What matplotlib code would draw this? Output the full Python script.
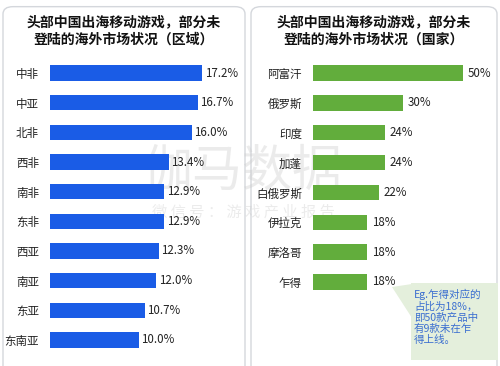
import matplotlib
matplotlib.use('Agg')
import matplotlib.pyplot as plt
from matplotlib.patches import FancyBboxPatch, Polygon

plt.rcParams['font.family'] = ['Noto Sans CJK SC', 'DejaVu Sans']

# data
regions = ['中非', '中亚', '北非', '西非', '南非', '东非', '西亚', '南亚', '东亚', '东南亚']
region_pct = [17.2, 16.7, 16.0, 13.4, 12.9, 12.9, 12.3, 12.0, 10.7, 10.0]
countries = ['阿富汗', '俄罗斯', '印度', '加蓬', '白俄罗斯', '伊拉克', '摩洛哥', '乍得']
country_pct = [50, 30, 24, 24, 22, 18, 18, 18]

title_l = '头部中国出海移动游戏，部分未\n登陆的海外市场状况（区域）'
title_r = '头部中国出海移动游戏，部分未\n登陆的海外市场状况（国家）'

BLUE = '#1a5ce6'
GREEN = '#62ad3c'
W, H = 500, 366

fig = plt.figure(figsize=(W / 100, H / 100), dpi=100)
fig.patch.set_facecolor('white')


def px_box(x0, y0, x1, y1):
    # pixel box (top-left origin) -> figure fraction [l, b, w, h]
    return [x0 / W, 1 - y1 / H, (x1 - x0) / W, (y1 - y0) / H]


# panels
for x0, x1 in [(3, 245), (251, 497)]:
    p = FancyBboxPatch((x0 / W, -0.05), (x1 - x0) / W, 1.04 - (3 / H),
                       boxstyle='round,pad=0,rounding_size=0.02',
                       transform=fig.transFigure, fc='white', ec='#d4d7dc', lw=1.0, zorder=0)
    fig.patches.append(p)

fig.text(124 / W, 1 - 31 / H, title_l, ha='center', va='center', fontsize=10,
         fontweight='bold', color='#111111', linespacing=1.3)
fig.text(374 / W, 1 - 31 / H, title_r, ha='center', va='center', fontsize=10,
         fontweight='bold', color='#111111', linespacing=1.3)

# watermark
fig.text(243 / W, 1 - 172 / H, '伽马数据', ha='center', va='center', fontsize=36,
         color='#c8c8c8', alpha=0.35, zorder=1)
fig.text(243 / W, 1 - 212 / H, '微 信 号 ： 游 戏 产 业 报 告', ha='center', va='center',
         fontsize=11, color='#c8c8c8', alpha=0.35, zorder=1)

# left chart: 8.85 px per unit, bars start at x=50
axl = fig.add_axes(px_box(50, 58.2, 240, 354.8))
axl.barh(range(len(regions)), region_pct, height=0.52, color=BLUE)
axl.set_xlim(0, 190 / 8.85)
axl.set_ylim(len(regions) - 0.5, -0.5)
for i, v in enumerate(region_pct):
    axl.text(v + 0.3, i, '%.1f%%' % v, va='center', ha='left', fontsize=8.3, color='#222222')
axl.set_yticks(range(len(regions)))
axl.set_yticklabels(regions, fontsize=8.3, color='#222222')

# right chart: 3 px per unit, bars start at x=313
axr = fig.add_axes(px_box(313, 58.1, 495, 296.9))
axr.barh(range(len(countries)), country_pct, height=0.52, color=GREEN)
axr.set_xlim(0, 182 / 3.0)
axr.set_ylim(len(countries) - 0.5, -0.5)
for i, v in enumerate(country_pct):
    axr.text(v + 1.6, i, '%d%%' % v, va='center', ha='left', fontsize=8.3, color='#222222')
axr.set_yticks(range(len(countries)))
axr.set_yticklabels(countries, fontsize=8.3, color='#222222')

for ax in (axl, axr):
    ax.set_zorder(2)
    ax.set_facecolor('none')
    ax.set_xticks([])
    ax.tick_params(axis='y', length=0, pad=8)
    for s in ax.spines.values():
        s.set_visible(False)

# callout
fig.patches.append(Polygon([(392 / W, 1 - 287 / H), (412 / W, 1 - 284 / H), (412 / W, 1 - 318 / H)],
                           closed=True, transform=fig.transFigure, fc='#e4efdc', ec='none', zorder=3))
fig.patches.append(FancyBboxPatch((411 / W, 1 - 360 / H), 87 / W, 77 / H,
                                  boxstyle='square,pad=0', transform=fig.transFigure,
                                  fc='#e4efdc', ec='none', zorder=3))
fig.text(414 / W, 1 - 289 / H, 'Eg.乍得对应的\n占比为18%，\n即50款产品中\n有9款未在乍\n得上线。',
         ha='left', va='top', fontsize=7.6, color='#3b6fd0', linespacing=1.12, zorder=4)

fig.savefig('out.png', dpi=100)
